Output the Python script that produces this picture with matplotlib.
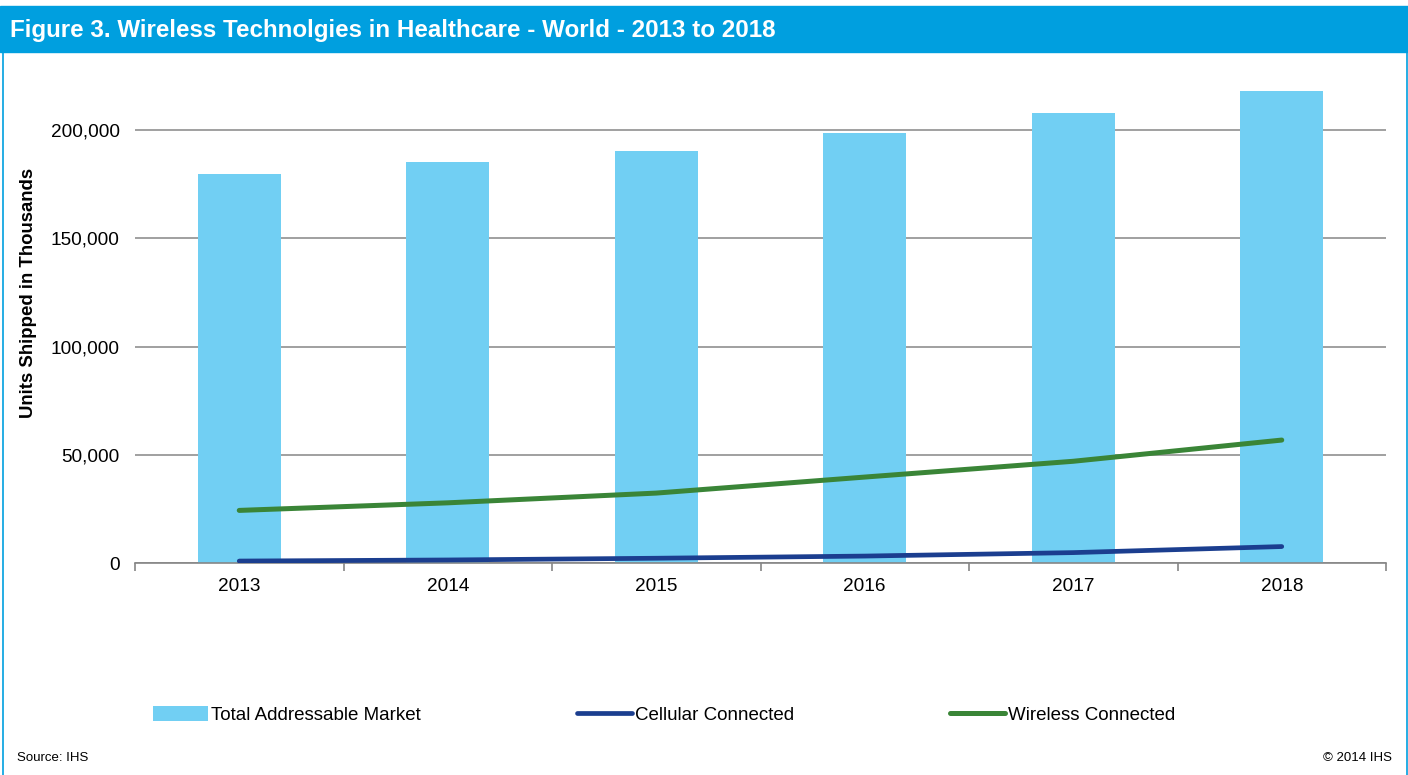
import matplotlib.pyplot as plt
from matplotlib.patches import Rectangle
from matplotlib.lines import Line2D
from matplotlib.ticker import FuncFormatter, FixedLocator

# data (units shipped, thousands)
years = ["2013", "2014", "2015", "2016", "2017", "2018"]
total_market = [179600, 185100, 190200, 198500, 207800, 217900]
cellular = [900, 1400, 2200, 3200, 4800, 7600]
wireless = [24300, 27800, 32300, 39700, 47000, 56800]

BAR_COLOR = "#71CFF3"
CELL_COLOR = "#1B3E8F"
WIFI_COLOR = "#3A8537"
HEADER_COLOR = "#009FDF"

plt.rcParams["font.family"] = ["Liberation Sans", "DejaVu Sans"]

fig = plt.figure(figsize=(14.08, 7.75), dpi=100)

# header band + side frame lines
fig.patches.append(Rectangle((0, 1 - 52 / 775), 1, 46 / 775, transform=fig.transFigure,
                             color=HEADER_COLOR, zorder=0))
for fx in (2.5 / 1408, 1406.5 / 1408):
    fig.lines.append(Line2D([fx, fx], [0, 1 - 52 / 775], transform=fig.transFigure,
                            color=HEADER_COLOR, linewidth=1.2))
fig.text(10 / 1408, 1 - 31 / 775, "Figure 3. Wireless Technolgies in Healthcare - World - 2013 to 2018",
         color="white", fontsize=17.4, fontweight="bold", va="center", ha="left")

ax = fig.add_axes([135 / 1408, 1 - 563 / 775, 1251 / 1408, (563 - 76) / 775])
x = list(range(len(years)))

ax.bar(x, total_market, width=0.4, color=BAR_COLOR, label="Total Addressable Market", zorder=2)
ax.plot(x, cellular, color=CELL_COLOR, linewidth=3.4, solid_capstyle="round",
        label="Cellular Connected", zorder=3)
ax.plot(x, wireless, color=WIFI_COLOR, linewidth=3.6, solid_capstyle="round",
        label="Wireless Connected", zorder=3)

ax.set_xlim(-0.5, len(years) - 0.5)
ax.set_ylim(0, 225000)
ax.set_yticks([0, 50000, 100000, 150000, 200000])
ax.yaxis.set_major_formatter(FuncFormatter(lambda v, p: f"{int(v):,}"))
ax.grid(axis="y", color="#868686", linewidth=1.1, zorder=1)
ax.set_axisbelow(True)

for s in ["top", "right", "left"]:
    ax.spines[s].set_visible(False)
ax.spines["bottom"].set_color("#868686")
ax.spines["bottom"].set_linewidth(1.2)

ax.set_xticks(x)
ax.set_xticklabels(years)
ax.xaxis.set_minor_locator(FixedLocator([i - 0.5 for i in range(len(years) + 1)]))
ax.tick_params(axis="x", which="major", length=0, labelsize=13.7, pad=11)
ax.tick_params(axis="x", which="minor", length=6, color="#868686", width=1.2)
ax.tick_params(axis="y", length=0, labelsize=13.7, pad=11)

ax.set_ylabel("Units Shipped in Thousands", fontsize=13.4, fontweight="bold")
ax.yaxis.set_label_coords(-0.078, 0.554)

handles, labels = ax.get_legend_handles_labels()
order = [labels.index("Total Addressable Market"), labels.index("Cellular Connected"),
         labels.index("Wireless Connected")]
fig.legend([handles[i] for i in order], [labels[i] for i in order],
           loc="center", bbox_to_anchor=(664 / 1408, 1 - 715 / 775), ncol=3, frameon=False,
           fontsize=13.5, handlelength=2.95, handletextpad=0.15, columnspacing=8.3,
           handleheight=0.9)

fig.text(17 / 1408, 1 - 758 / 775, "Source: IHS", fontsize=9.5, va="center", ha="left")
fig.text(1392 / 1408, 1 - 758 / 775, "\u00a9 2014 IHS", fontsize=9.5, va="center", ha="right")

fig.savefig("out.png", dpi=100)
